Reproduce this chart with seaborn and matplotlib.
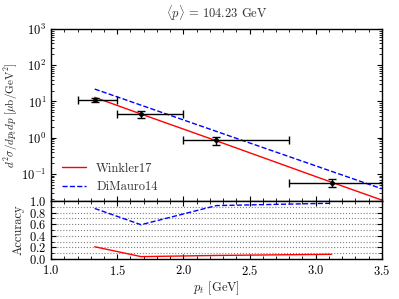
import matplotlib

matplotlib.use("Agg")
import matplotlib.pyplot as plt  # noqa: E402
import pandas as pd  # noqa: E402
import seaborn as sns  # noqa: E402
from matplotlib.ticker import MultipleLocator  # noqa: E402

# measured cross section (points with bin widths)
pt = [1.33, 1.68, 2.25, 3.12]
pt_lo = [1.2, 1.5, 2.0, 2.8]
pt_hi = [1.5, 2.0, 2.8, 3.5]
xsec = [11.2, 4.5, 0.84, 0.058]
xsec_err = [1.6, 1.0, 0.2, 0.015]

# model curves
pt_model = [1.33, 1.68, 2.25, 3.12, 3.5]
winkler = [13.0, 4.5, 0.82, 0.059, 0.019]
dimauro = [22.0, 7.9, 1.49, 0.118, 0.039]

# accuracy panel
acc_winkler = [0.21, 0.04, 0.06, 0.08]
acc_dimauro = [0.87, 0.59, 0.92, 0.96]

sns.set_style("ticks")
plt.rcParams.update({
    "font.family": "serif",
    "font.serif": ["cmr10", "DejaVu Serif"],
    "mathtext.fontset": "cm",
    "axes.formatter.use_mathtext": True,
    "font.size": 9,
    "xtick.direction": "in",
    "ytick.direction": "in",
    "xtick.top": True,
    "ytick.right": True,
    "axes.edgecolor": "black",
    "xtick.color": "black",
    "ytick.color": "black",
    "text.color": "#333333",
})

fig = plt.figure(figsize=(3.99, 2.99), dpi=100)
ax = fig.add_axes([0.128, 0.328, 0.829, 0.575])
ax2 = fig.add_axes([0.128, 0.134, 0.829, 0.194], sharex=ax)

models = pd.DataFrame({"pt": pt_model, "Winkler17": winkler, "DiMauro14": dimauro})
sns.lineplot(data=models, x="pt", y="Winkler17", ax=ax, color="red", lw=1.0, label="Winkler17")
sns.lineplot(data=models, x="pt", y="DiMauro14", ax=ax, color="blue", lw=1.0,
             linestyle="--", label="DiMauro14")
xerr = [[p - lo for p, lo in zip(pt, pt_lo)], [hi - p for p, hi in zip(pt, pt_hi)]]
ax.errorbar(pt, xsec, xerr=xerr, yerr=xsec_err, fmt="o", ms=2.5, color="black",
            ecolor="black", elinewidth=1.0, capsize=3, capthick=1.0)

ax.set_yscale("log")
ax.set_ylim(0.018, 1000)
ax.set_xlim(1.0, 3.5)
ax.set_title(r"$\langle p\rangle$ = 104.23 GeV", fontsize=9, pad=8)
ax.set_xlabel("")
ax.set_ylabel(r"$d^2\sigma/dp_tdp\ [\mu{\rm b/GeV}^2]$", fontsize=8)
ax.yaxis.set_label_coords(-0.093, 0.5)
ax.tick_params(labelbottom=False)
ax.xaxis.set_minor_locator(MultipleLocator(0.1))
ax.tick_params(which="both", top=True, right=True)
ax.legend(loc="lower left", frameon=False, fontsize=9, handlelength=1.9,
          handletextpad=0.8, bbox_to_anchor=(0.0, -0.02))

acc = pd.DataFrame({"pt": pt, "w": acc_winkler, "d": acc_dimauro})
sns.lineplot(data=acc, x="pt", y="w", ax=ax2, color="red", lw=1.0)
sns.lineplot(data=acc, x="pt", y="d", ax=ax2, color="blue", lw=1.0, linestyle="--")
ax2.set_ylim(0, 1.0)
ax2.set_xlim(1.0, 3.5)
ax2.yaxis.set_major_locator(MultipleLocator(0.2))
ax2.yaxis.set_minor_locator(MultipleLocator(0.1))
ax2.xaxis.set_major_locator(MultipleLocator(0.5))
ax2.xaxis.set_minor_locator(MultipleLocator(0.1))
ax2.grid(axis="y", which="both", color="grey", linestyle=":", lw=0.8)
ax2.set_xlabel(r"$p_t$ [GeV]", fontsize=9, labelpad=1)
ax2.set_ylabel("Accuracy", fontsize=9)
ax2.yaxis.set_label_coords(-0.08, 0.5)
ax2.tick_params(which="both", top=True, right=True)
for a in (ax, ax2):
    for s in a.spines.values():
        s.set_linewidth(1.0)

fig.savefig("out.png", dpi=100)
